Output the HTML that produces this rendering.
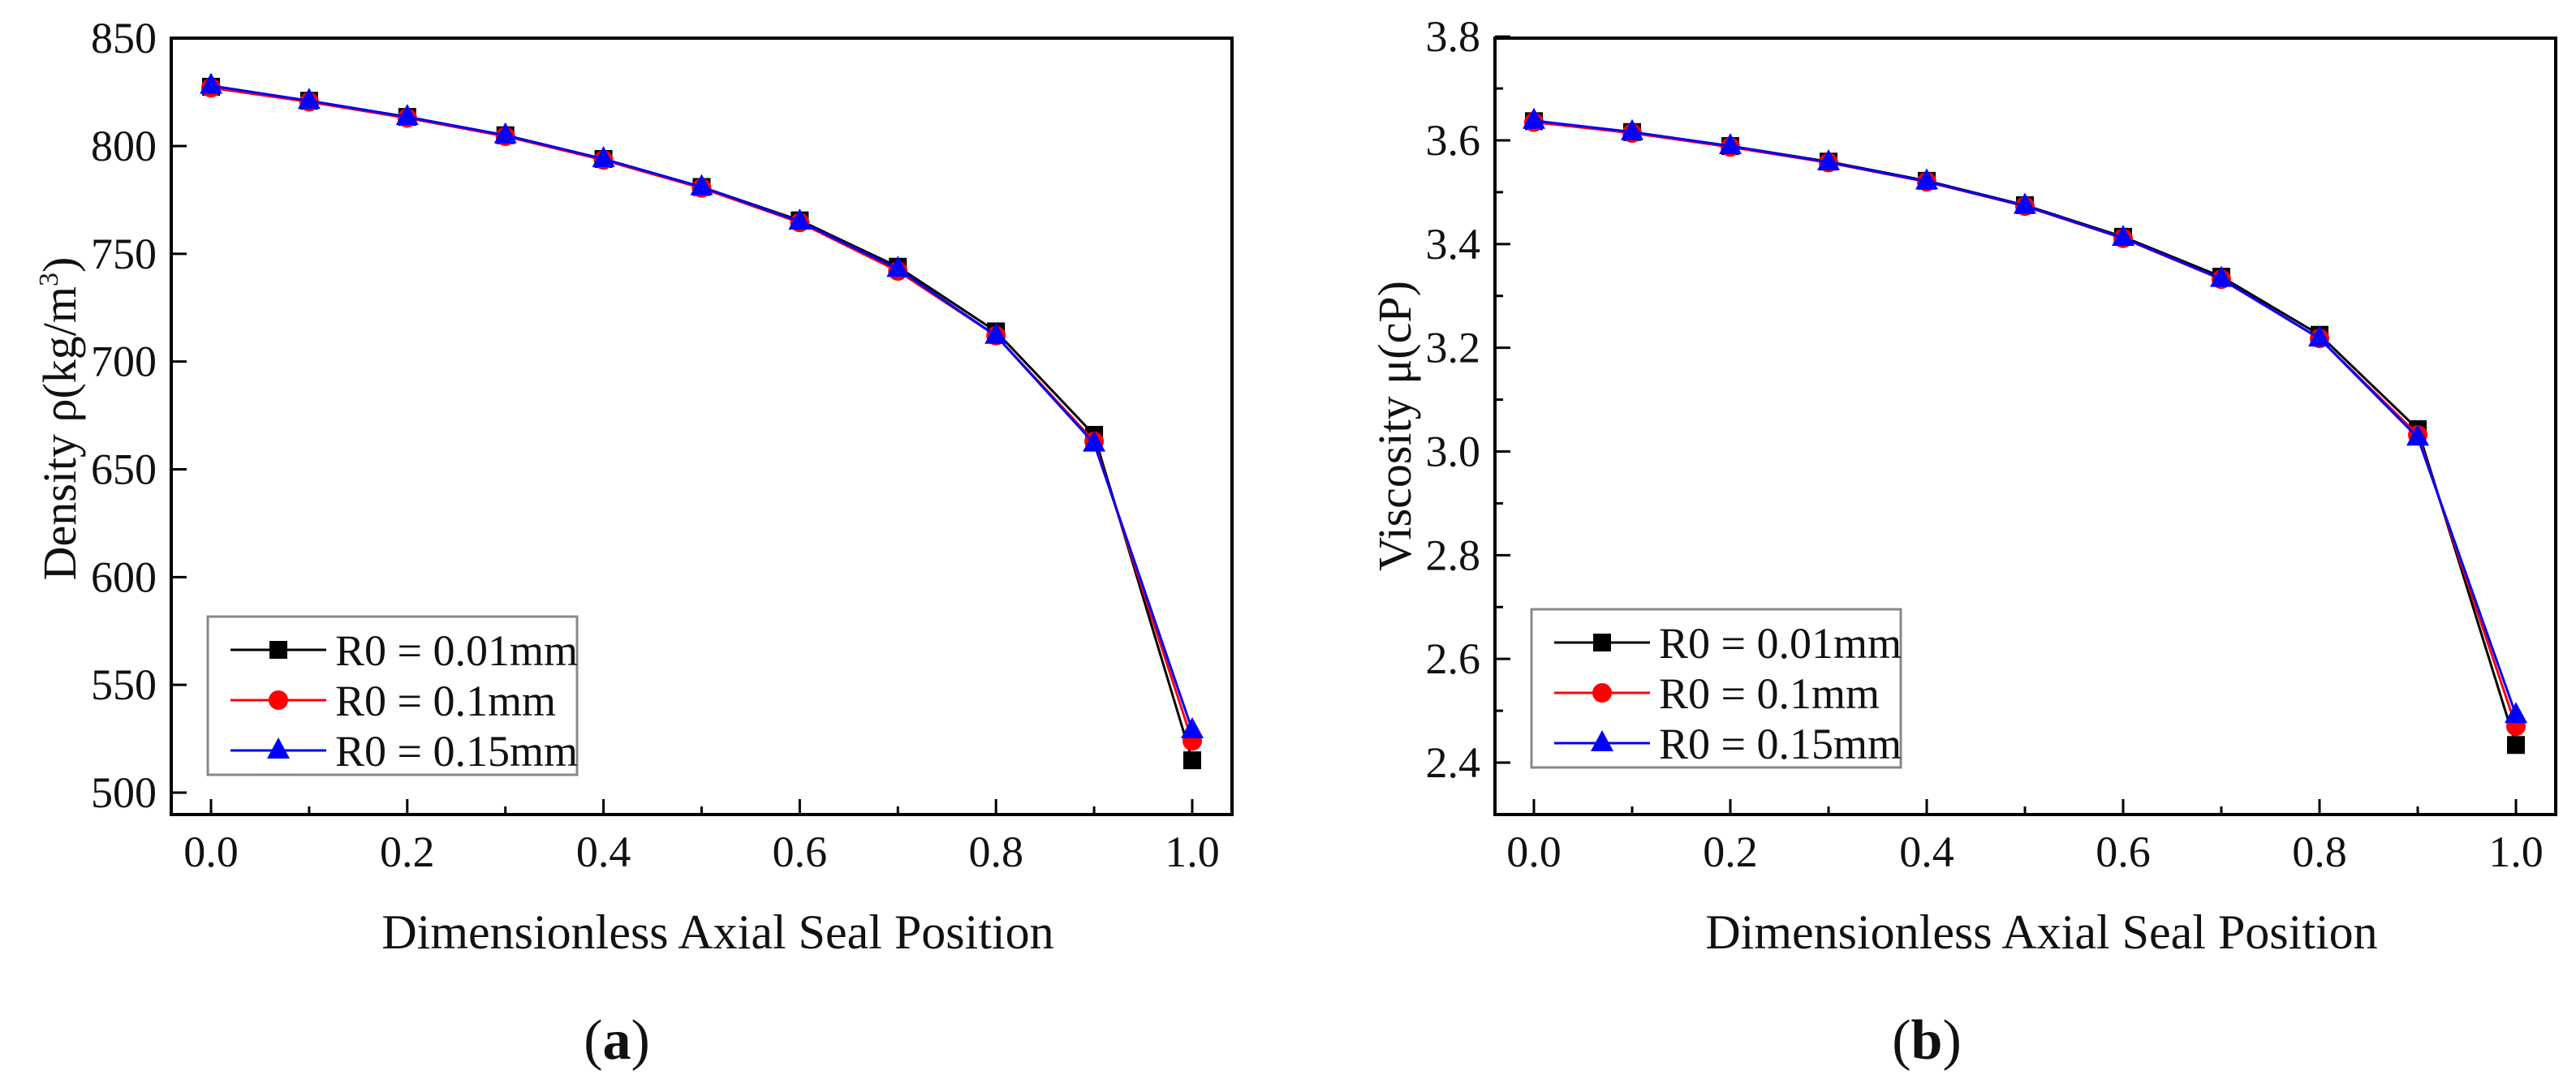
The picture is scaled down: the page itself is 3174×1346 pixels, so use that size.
<!DOCTYPE html>
<html><head><meta charset="utf-8"><style>
html,body{margin:0;padding:0;background:#fff;}
svg{display:block;}
svg text{font-family:"Liberation Serif","Times New Roman",Times,"Nimbus Roman","DejaVu Serif",serif;}
</style></head><body>
<svg id="chart" width="3174" height="1346" viewBox="0 0 3174 1346" xmlns="http://www.w3.org/2000/svg"></svg>
<script>
const xValues=[0,0.1,0.2,0.3,0.4,0.5,0.6,0.7,0.8,0.9,1.0];
const xTickLabels=["0.0","0.2","0.4","0.6","0.8","1.0"];
const seriesNames=["R0 = 0.01mm","R0 = 0.1mm","R0 = 0.15mm"];
const densityBlack=[827.5,821,813.5,805,794,781,765.5,744,714,666,515];
const densityRed=[827,820.5,813,804.5,793.5,780.5,764.5,742,712,663,524];
const densityBlue=[828,821,813.5,805,794,781,765,743,712,662,529];
const densityTicks=["500","550","600","650","700","750","800","850"];
const viscBlack=[3.637,3.616,3.589,3.559,3.522,3.475,3.414,3.337,3.225,3.043,2.434];
const viscRed=[3.635,3.614,3.587,3.557,3.520,3.473,3.411,3.332,3.218,3.032,2.470];
const viscBlue=[3.638,3.616,3.589,3.558,3.521,3.474,3.412,3.333,3.218,3.027,2.492];
const viscTicks=["2.4","2.6","2.8","3.0","3.2","3.4","3.6","3.8"];

const NS="http://www.w3.org/2000/svg";
const svg=document.getElementById('chart');
function mk(tag,attrs,parent){const e=document.createElementNS(NS,tag);for(const k in attrs)e.setAttribute(k,attrs[k]);(parent||svg).appendChild(e);return e;}
const colors=["#000","#f00","#00f"];

function panel(cfg){
  const g=mk('g',{});
  
  
  const xs=v=>cfg.x0+(cfg.x1-cfg.x0)*v;
  const ys=v=>cfg.yPx0+(v-cfg.yV0)/(cfg.yV1-cfg.yV0)*(cfg.yPx1-cfg.yPx0);
  const fr=mk('rect',{x:cfg.L,y:cfg.T,width:cfg.R-cfg.L,height:cfg.B-cfg.T,fill:'none',stroke:'#000','stroke-width':4},g);
  
  
  for(let i=0;i<=10;i++){
    const v=i/10,px=xs(v),major=i%2===0;
    const t=mk('line',{x1:px,x2:px,y1:cfg.B,y2:cfg.B-(major?19:10),stroke:'#000','stroke-width':3},g);
    
    
  }
  xTickLabels.forEach(lbl=>{
    const v=parseFloat(lbl);
    const t=mk('text',{x:xs(v),y:1068,'font-size':54,'text-anchor':'middle',fill:'#111'},g);
    t.textContent=lbl;
    
    
  });
  const labels=cfg.yTicks;
  labels.forEach((lbl,i)=>{
    const v=parseFloat(lbl),py=ys(v);
    const t=mk('line',{x1:cfg.L,x2:cfg.L+19,y1:py,y2:py,stroke:'#000','stroke-width':3},g);
    
    
    const tx=mk('text',{x:cfg.L-18,y:py+18,'font-size':54,'text-anchor':'end',fill:'#111'},g);
    tx.textContent=lbl;
    
    
    if(cfg.minor){
      const step=parseFloat(labels[1])-parseFloat(labels[0]);
      const mp=ys(v+step/2);
      if(mp>cfg.T+5){
        const m=mk('line',{x1:cfg.L,x2:cfg.L+10,y1:mp,y2:mp,stroke:'#000','stroke-width':3},g);
        
        
      }
      if(i===0){const mp2=ys(v-step/2);
        if(mp2<cfg.B-5){const m=mk('line',{x1:cfg.L,x2:cfg.L+10,y1:mp2,y2:mp2,stroke:'#000','stroke-width':3},g);
        
        }}
    }
  });
  cfg.series.forEach((data,si)=>{
    const sg=mk('g',{},g);
    
    
    const pts=data.map((d,i)=>xs(xValues[i])+','+ys(d)).join(' ');
    const pl=mk('polyline',{points:pts,fill:'none',stroke:colors[si],'stroke-width':3},sg);
    
    
    data.forEach((d,i)=>{
      const m=marker(si,xs(xValues[i]),ys(d),sg);
      
      
    });
  });
  const lg=mk('g',{},g);
  
  
  const lb=mk('rect',{x:cfg.L+45,y:cfg.legT,width:455,height:195,fill:'#fff',stroke:'#888','stroke-width':3},lg);
  
  
  seriesNames.forEach((n,si)=>{
    const ry=cfg.legT+41+si*62;
    const e=mk('g',{},lg);
    
    
    mk('line',{x1:cfg.L+73,x2:cfg.L+191,y1:ry,y2:ry,stroke:colors[si],'stroke-width':3},e);
    marker(si,cfg.L+132,ry,e);
    const t=mk('text',{x:cfg.L+202,y:ry+19,'font-size':54,fill:'#111'},e);
    t.textContent=n;
  });
  const xt=mk('text',{x:(cfg.L+cfg.R)/2+20,y:1169,'font-size':60,'text-anchor':'middle',fill:'#111'},g);
  xt.textContent="Dimensionless Axial Seal Position";
  
  
  const yt=mk('text',{x:0,y:0,'font-size':58,'text-anchor':'middle',fill:'#111',transform:`translate(${cfg.ytX},${cfg.ytY}) rotate(-90)`},g);
  yt.innerHTML=cfg.ytitle;
  
  
  const pl=mk('text',{x:cfg.plX,y:1305,'font-size':70,'text-anchor':'middle',fill:'#111'},g);
  pl.innerHTML='(<tspan font-weight="bold">'+cfg.letter+'</tspan>)';
  
  
}
function marker(si,x,y,p){
  if(si===0)return mk('rect',{x:x-11,y:y-11,width:22,height:22,fill:'#000'},p);
  if(si===1)return mk('circle',{cx:x,cy:y,r:12,fill:'#f00'},p);
  return mk('polygon',{points:`${x},${y-16} ${x-14},${y+10} ${x+14},${y+10}`,fill:'#00f'},p);
}
panel({name:'density-panel',L:211,R:1518,T:47,B:1004,x0:260,x1:1469,yV0:500,yV1:800,yPx0:977,yPx1:180,
  yTicks:densityTicks,minor:false,series:[densityBlack,densityRed,densityBlue],legT:760,
  ytitle:'Density ρ(kg/m<tspan dy="-22" font-size="34">3</tspan><tspan dy="22">)</tspan>',ytX:93,ytY:516,plX:760,letter:'a'});
panel({name:'viscosity-panel',L:1842,R:3149,T:47,B:1004,x0:1890,x1:3100,yV0:2.4,yV1:3.6,yPx0:940,yPx1:173,
  yTicks:viscTicks,minor:true,series:[viscBlack,viscRed,viscBlue],legT:751,
  ytitle:'Viscosity μ(cP)',ytX:1738,ytY:525,plX:2374,letter:'b'});
</script>
</body></html>
